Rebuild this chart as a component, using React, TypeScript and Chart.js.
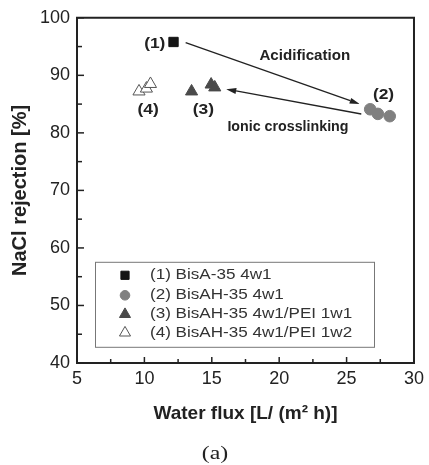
import React, { useEffect, useRef } from 'react';
import { Chart, registerables } from 'chart.js';
import { drawPoint } from 'chart.js/helpers';

Chart.register(...registerables);

// ---------- data ----------
const seriesLabels = [
  '(1) BisA-35 4w1',
  '(2) BisAH-35 4w1',
  '(3) BisAH-35 4w1/PEI 1w1',
  '(4) BisAH-35 4w1/PEI 1w2',
];
const s1X = [12.16];
const s1Y = [95.8];
const s2X = [26.75, 27.32, 28.2];
const s2Y = [84.1, 83.3, 82.9];
const s3X = [13.5, 14.95, 15.22];
const s3Y = [87.2, 88.4, 87.9];
const s4X = [9.6, 10.15, 10.45];
const s4Y = [87.2, 87.7, 88.5];

const xMin = 5, xMax = 30, xStep = 5;
const yMin = 40, yMax = 100, yStep = 10;
const xTitle = 'Water flux [L/ (m\u00B2 h)]';
const yTitle = 'NaCl rejection [%]';
const caption = '(a)';

// annotations (data coordinates)
const groupLabels = ['(1)', '(2)', '(3)', '(4)'];
const groupLabelX = [10.77, 27.74, 14.37, 10.27];
const groupLabelY = [95.4, 86.6, 84.0, 84.0];
const noteTexts = ['Acidification', 'Ionic crosslinking'];
const noteX = [21.9, 20.65];
const noteY = [93.3, 81.1];
const arrowFromX = [13.06, 26.09];
const arrowFromY = [95.68, 83.28];
const arrowToX = [25.97, 16.07];
const arrowToY = [85.01, 87.6];

const toPts = (xs: number[], ys: number[]) => xs.map((v, i) => ({ x: v, y: ys[i] }));

function stretchText(ctx: CanvasRenderingContext2D, text: string, x: number, y: number, sx: number, align: CanvasTextAlign) {
  ctx.save();
  ctx.translate(x, y);
  ctx.scale(sx, 1);
  ctx.textAlign = align;
  ctx.fillText(text, 0, 0);
  ctx.restore();
}

const overlay = {
  id: 'overlay',
  afterDraw(chart: any) {
    const { ctx, chartArea: a } = chart;
    const xs = chart.scales.x;
    const ys = chart.scales.y;
    ctx.save();
    // top and right frame
    ctx.strokeStyle = '#222';
    ctx.lineWidth = 2;
    ctx.beginPath();
    ctx.moveTo(a.left - 1, a.top);
    ctx.lineTo(a.right, a.top);
    ctx.lineTo(a.right, a.bottom + 1);
    ctx.stroke();
    // inward ticks
    ctx.lineWidth = 1.5;
    for (let v = xMin; v <= xMax + 1e-6; v += xStep / 2) {
      const major = Math.abs((v - xMin) % xStep) < 1e-6;
      const px = xs.getPixelForValue(v);
      ctx.beginPath();
      ctx.moveTo(px, a.bottom);
      ctx.lineTo(px, a.bottom - (major ? 6 : 4));
      ctx.stroke();
    }
    for (let v = yMin; v <= yMax + 1e-6; v += yStep / 2) {
      const major = Math.abs((v - yMin) % yStep) < 1e-6;
      const py = ys.getPixelForValue(v);
      ctx.beginPath();
      ctx.moveTo(a.left, py);
      ctx.lineTo(a.left + (major ? 7 : 5), py);
      ctx.stroke();
    }
    // arrows
    ctx.strokeStyle = '#222';
    ctx.fillStyle = '#222';
    ctx.lineWidth = 1.3;
    for (let i = 0; i < arrowFromX.length; i++) {
      const x1 = xs.getPixelForValue(arrowFromX[i]);
      const y1 = ys.getPixelForValue(arrowFromY[i]);
      const x2 = xs.getPixelForValue(arrowToX[i]);
      const y2 = ys.getPixelForValue(arrowToY[i]);
      const ang = Math.atan2(y2 - y1, x2 - x1);
      const hl = 10, hw = 3;
      const bx = x2 - hl * Math.cos(ang);
      const by = y2 - hl * Math.sin(ang);
      ctx.beginPath();
      ctx.moveTo(x1, y1);
      ctx.lineTo(bx, by);
      ctx.stroke();
      ctx.beginPath();
      ctx.moveTo(x2, y2);
      ctx.lineTo(bx + hw * Math.sin(ang), by - hw * Math.cos(ang));
      ctx.lineTo(bx - hw * Math.sin(ang), by + hw * Math.cos(ang));
      ctx.closePath();
      ctx.fill();
    }
    // group labels
    ctx.fillStyle = '#222';
    ctx.textBaseline = 'middle';
    ctx.font = 'bold 14.5px "Liberation Sans", Arial, sans-serif';
    for (let i = 0; i < groupLabels.length; i++) {
      stretchText(ctx, groupLabels[i], xs.getPixelForValue(groupLabelX[i]), ys.getPixelForValue(groupLabelY[i]), 1.2, 'center');
    }
    ctx.font = 'bold 14.7px "Liberation Sans", Arial, sans-serif';
    for (let i = 0; i < noteTexts.length; i++) {
      const sx = i === 0 ? 1.03 : 0.97;
      stretchText(ctx, noteTexts[i], xs.getPixelForValue(noteX[i]), ys.getPixelForValue(noteY[i]), sx, 'center');
    }
    // legend box
    const lx = a.left + 18, ly = a.top + 244, lw = 279, lh = 85;
    ctx.strokeStyle = '#777';
    ctx.lineWidth = 1;
    ctx.strokeRect(lx + 0.5, ly + 0.5, lw, lh);
    const rowY = [13.5, 33.5, 52.5, 71];
    ctx.font = '14px "Liberation Sans", Arial, sans-serif';
    chart.data.datasets.forEach((ds: any, i: number) => {
      const cy = ly + rowY[i];
      ctx.save();
      ctx.fillStyle = ds.backgroundColor;
      ctx.strokeStyle = ds.borderColor;
      ctx.lineWidth = ds.borderWidth;
      drawPoint(ctx, { pointStyle: ds.pointStyle, radius: ds.pointStyle === 'circle' ? 4.8 : ds.pointStyle === 'rect' ? 5.8 : 6.4, rotation: 0, borderWidth: ds.borderWidth }, lx + 30, cy);
      ctx.restore();
      ctx.fillStyle = '#333';
      ctx.textBaseline = 'middle';
      stretchText(ctx, ds.label, lx + 55, cy, 1.22, 'left');
    });
    // caption
    ctx.fillStyle = '#222';
    ctx.font = '19px "Liberation Serif", "Times New Roman", serif';
    ctx.textBaseline = 'middle';
    stretchText(ctx, caption, 215, 454, 1.25, 'center');
    ctx.restore();
  },
};

export default function App() {
  const ref = useRef<HTMLCanvasElement | null>(null);
  useEffect(() => {
    if (!ref.current) return;
    const chart = new Chart(ref.current, {
      type: 'scatter',
      data: {
        datasets: [
          { label: seriesLabels[0], data: toPts(s1X, s1Y), pointStyle: 'rect', pointRadius: 6.6, backgroundColor: '#151515', borderColor: '#151515', borderWidth: 1 },
          { label: seriesLabels[1], data: toPts(s2X, s2Y), pointStyle: 'circle', pointRadius: 5.8, backgroundColor: '#808080', borderColor: '#808080', borderWidth: 1 },
          { label: seriesLabels[2], data: toPts(s3X, s3Y), pointStyle: 'triangle', pointRadius: 7, backgroundColor: '#4a4a4a', borderColor: '#4a4a4a', borderWidth: 1 },
          { label: seriesLabels[3], data: toPts(s4X, s4Y), pointStyle: 'triangle', pointRadius: 7, backgroundColor: '#ffffff', borderColor: '#555555', borderWidth: 1 },
        ] as any,
      },
      options: {
        responsive: false,
        animation: false,
        layout: { padding: { top: 15, right: 11, left: 0, bottom: 0 } },
        plugins: { legend: { display: false }, tooltip: { enabled: false } },
        scales: {
          x: {
            type: 'linear',
            min: xMin,
            max: xMax,
            afterFit: (s: any) => { s.height = 102; },
            grid: { display: false, drawTicks: false },
            border: { display: true, color: '#222', width: 2 },
            ticks: { stepSize: xStep, padding: 5, color: '#222', font: { family: '"Liberation Sans", Arial, sans-serif', size: 18 } },
            title: { display: true, text: xTitle, color: '#222', padding: { top: 0, bottom: 40 }, font: { family: '"Liberation Sans", Arial, sans-serif', size: 19, weight: 'bold' } },
          },
          y: {
            type: 'linear',
            min: yMin,
            max: yMax,
            afterFit: (s: any) => { s.width = 77; },
            grid: { display: false, drawTicks: false },
            border: { display: true, color: '#222', width: 2 },
            ticks: { stepSize: yStep, padding: 7, color: '#222', font: { family: '"Liberation Sans", Arial, sans-serif', size: 18 } },
            title: { display: true, text: yTitle, color: '#222', padding: { top: 8, bottom: 0 }, font: { family: '"Liberation Sans", Arial, sans-serif', size: 20, weight: 'bold' } },
          },
        },
      } as any,
      plugins: [overlay],
    });
    return () => chart.destroy();
  }, []);
  return (
    <div style={{ position: 'absolute', left: 0, top: 0, width: 429, height: 465, background: '#fff' }}>
      <canvas ref={ref} width={429} height={465} />
    </div>
  );
}
